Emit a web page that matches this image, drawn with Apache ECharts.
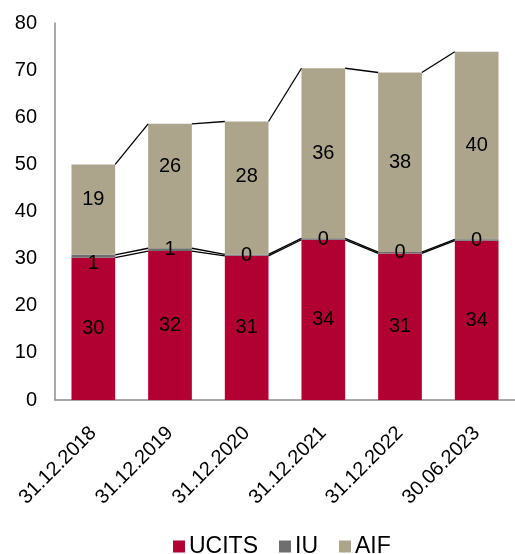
<!DOCTYPE html>
<html>
<head>
<meta charset="utf-8">
<script src="https://cdn.jsdelivr.net/npm/echarts@6/dist/echarts.min.js"></script>
<style>
  html, body { margin: 0; padding: 0; background: #fff; }
  #chart { width: 515px; height: 554px; }
</style>
</head>
<body>
<div id="chart"></div>
<script>
var dates = ['31.12.2018', '31.12.2019', '31.12.2020', '31.12.2021', '31.12.2022', '30.06.2023']
var ucits = [30.2, 31.6, 30.6, 34.0, 31.1, 33.8]
var iu = [0.6, 0.6, 0.3, 0.3, 0.3, 0.3]
var aif = [19.2, 26.4, 28.2, 36.1, 38.1, 39.8]

;(function () {
  var myChart = echarts.init(document.getElementById('chart'))
  var font = 'Liberation Sans, Arial, sans-serif'
  var barRatio = 0.57
  var stacks = [ucits, iu, aif]
  // label nudges as placed in the original
  var nudges = {
    IU: [[0, 7], null, null, null, null, null],
    AIF: [[0, -10], [0, -20], [0, -11], null, null, null]
  }

  function top (k, i) {
    var s = 0
    for (var j = 0; j <= k; j++) s += stacks[j][i]
    return s
  }

  // excel style series lines between stacked segment tops
  function linkSeries (k) {
    var d = []
    for (var i = 0; i < dates.length - 1; i++) d.push([i, top(k, i), top(k, i + 1)])
    return {
      type: 'custom',
      silent: true,
      z: 5,
      encode: { x: 0, y: [1, 2] },
      data: d,
      renderItem: function (params, api) {
        var bw = api.size([1, 0])[0] * barRatio
        var a = api.coord([api.value(0), api.value(1)])
        var b = api.coord([api.value(0) + 1, api.value(2)])
        return {
          type: 'line',
          shape: { x1: a[0] + bw / 2, y1: a[1], x2: b[0] - bw / 2, y2: b[1] },
          style: { stroke: '#000', lineWidth: 1.3 }
        }
      }
    }
  }

  function barSeries (name, data, color) {
    var n = nudges[name]
    return {
      name: name,
      type: 'bar',
      stack: 'total',
      data: data.map(function (v, i) {
        return n && n[i] ? { value: v, label: { offset: n[i] } } : v
      }),
      barCategoryGap: '43%',
      itemStyle: { color: color },
      label: {
        show: true,
        position: 'inside',
        color: '#000',
        fontFamily: font,
        fontSize: 20,
        formatter: function (p) { return Math.round(p.value) }
      }
    }
  }

  var option = {
    animation: false,
    textStyle: { fontFamily: font },
    grid: { left: 55, right: 0, top: 23, bottom: 154 },
    legend: {
      top: 535,
      left: 173,
      padding: 0,
      data: ['UCITS', 'IU', 'AIF'],
      icon: 'rect',
      itemWidth: 12,
      itemHeight: 12,
      itemGap: 21,
      textStyle: { fontSize: 23, color: '#000', fontFamily: font, padding: [0, 0, 0, -1] }
    },
    xAxis: {
      type: 'category',
      data: dates,
      axisLine: { lineStyle: { color: '#8c8c8c', width: 1.5 } },
      axisTick: { show: false },
      axisLabel: { rotate: 45, fontSize: 20, color: '#000', margin: 30, fontFamily: font }
    },
    yAxis: {
      type: 'value',
      min: 0,
      max: 80,
      interval: 10,
      axisLine: { show: true, lineStyle: { color: '#8c8c8c', width: 1.5 } },
      axisTick: { show: false },
      splitLine: { show: false },
      axisLabel: { fontSize: 20, color: '#000', margin: 18, fontFamily: font }
    },
    series: [
      barSeries('UCITS', ucits, '#B10032'),
      barSeries('IU', iu, '#6E6E6E'),
      barSeries('AIF', aif, '#ADA58B'),
      linkSeries(0),
      linkSeries(1),
      linkSeries(2)
    ]
  }
  myChart.setOption(option)
})()
</script>
</body>
</html>
